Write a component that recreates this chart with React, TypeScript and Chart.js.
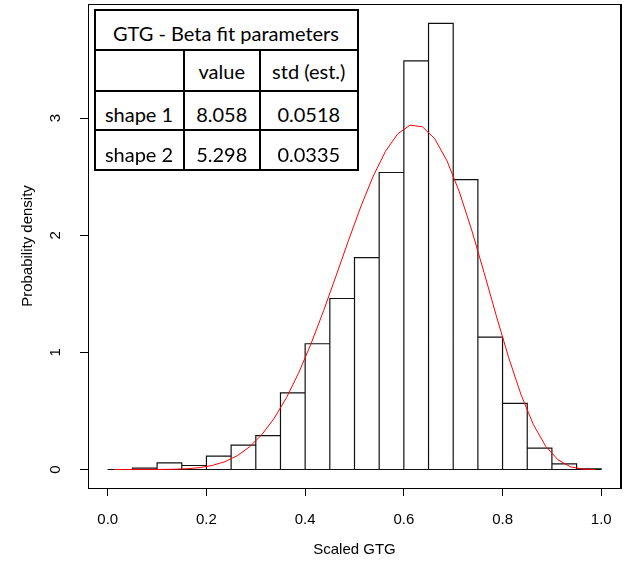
import React, { useEffect, useRef } from "react";
import { Chart, registerables } from "chart.js";

Chart.register(...registerables);

// ---- data ----
const binEdges = [0, 0.05, 0.1, 0.15, 0.2, 0.25, 0.3, 0.35, 0.4, 0.45, 0.5, 0.55, 0.6, 0.65, 0.7, 0.75, 0.8, 0.85, 0.9, 0.95, 1.0];
const binDensity = [0, 0.011, 0.057, 0.034, 0.114, 0.208, 0.29, 0.655, 1.074, 1.46, 1.81, 2.536, 3.49, 3.81, 2.476, 1.131, 0.564, 0.182, 0.048, 0.006];

const curveX = [0.0125, 0.0375, 0.0625, 0.0875, 0.1125, 0.1375, 0.1625, 0.1875, 0.2125, 0.2375, 0.2625, 0.2875, 0.3125, 0.3375, 0.3625, 0.3875, 0.4125, 0.4375, 0.4625, 0.4875, 0.5125, 0.5375, 0.5625, 0.5875, 0.6125, 0.6375, 0.6625, 0.6875, 0.7125, 0.7375, 0.7625, 0.7875, 0.8125, 0.8375, 0.8625, 0.8875, 0.9125, 0.9375, 0.9625, 0.9875];
const curveY = [0, 0, 0.00001, 0.0001, 0.0007, 0.0024, 0.0069, 0.0167, 0.0353, 0.0672, 0.118, 0.194, 0.299, 0.439, 0.616, 0.831, 1.08, 1.357, 1.652, 1.952, 2.241, 2.501, 2.715, 2.866, 2.94, 2.927, 2.825, 2.635, 2.37, 2.044, 1.682, 1.31, 0.954, 0.638, 0.383, 0.198, 0.082, 0.023, 0.003, 0];

const xTicks = [0, 0.2, 0.4, 0.6, 0.8, 1.0];
const yTicks = [0, 1, 2, 3];

const xTitle = "Scaled GTG";
const yTitle = "Probability density";

const tableTitle = "GTG - Beta fit parameters";
const tableHeader = ["", "value", "std (est.)"];
const tableRows = [
  ["shape 1", "8.058", "0.0518"],
  ["shape 2", "5.298", "0.0335"],
];

const axisFont = "'Liberation Sans', Arial, Helvetica, sans-serif";
const tableFont = "Lato, 'Open Sans', sans-serif";

const framePlugin = {
  id: "frameBox",
  afterDraw(chart: any) {
    const { ctx, chartArea } = chart;
    const l = Math.round(chartArea.left) + 0.5;
    const t = Math.round(chartArea.top) + 0.5;
    const r = Math.round(chartArea.right) - 0.5;
    const b = Math.round(chartArea.bottom) + 0.5;
    ctx.save();
    ctx.strokeStyle = "#000";
    ctx.lineWidth = 1;
    ctx.beginPath();
    ctx.moveTo(l, t);
    ctx.lineTo(r, t);
    ctx.lineTo(r, b);
    ctx.lineTo(l, b);
    ctx.closePath();
    ctx.stroke();
    ctx.restore();
  },
};

function buildHistogramOutline() {
  const pts: { x: number; y: number }[] = [];
  for (let i = 0; i < binDensity.length; i++) {
    pts.push({ x: binEdges[i], y: 0 });
    pts.push({ x: binEdges[i], y: binDensity[i] });
    pts.push({ x: binEdges[i + 1], y: binDensity[i] });
    pts.push({ x: binEdges[i + 1], y: 0 });
  }
  return pts;
}

const colX = [94.5, 183.5, 260, 357.5];
const rowY = [9.5, 50, 90.5, 130, 170];
const rowShift = [3.5, 1, 4, 4];

function ParamTable() {
  const lines: React.ReactNode[] = [];
  const lw = 2;
  rowY.forEach((y, i) => {
    lines.push(
      <div key={"h" + i} style={{ position: "absolute", left: colX[0] - lw / 2, top: y - lw / 2, width: colX[3] - colX[0] + lw, height: lw, background: "#000" }} />
    );
  });
  colX.forEach((x, i) => {
    const inner = i === 1 || i === 2;
    const top = inner ? rowY[1] : rowY[0];
    lines.push(
      <div key={"v" + i} style={{ position: "absolute", left: x - lw / 2, top: top - lw / 2, width: lw, height: rowY[4] - top + lw, background: "#000" }} />
    );
  });
  const cell = (text: string, c0: number, c1: number, r: number, key: string) => (
    <div
      key={key}
      style={{
        position: "absolute",
        left: colX[c0],
        width: colX[c1] - colX[c0],
        top: rowY[r] + rowShift[r],
        height: rowY[r + 1] - rowY[r],
        display: "flex",
        alignItems: "center",
        justifyContent: "center",
        fontFamily: tableFont,
        fontSize: 20,
        color: "#000",
        whiteSpace: "nowrap",
      }}
    >
      {text}
    </div>
  );
  const cells: React.ReactNode[] = [];
  cells.push(cell(tableTitle, 0, 3, 0, "title"));
  tableHeader.forEach((t, j) => cells.push(cell(t, j, j + 1, 1, "hd" + j)));
  tableRows.forEach((row, i) => row.forEach((t, j) => cells.push(cell(t, j, j + 1, i + 2, "c" + i + j))));
  return (
    <div style={{ position: "absolute", left: 0, top: 0, width: 627, height: 568, pointerEvents: "none" }}>
      <div style={{ position: "absolute", left: colX[0], top: rowY[0], width: colX[3] - colX[0], height: rowY[4] - rowY[0], background: "#fff" }} />
      {cells}
      {lines}
    </div>
  );
}

const zeroPad = (s: any) => {
  s.paddingLeft = 0;
  s.paddingRight = 0;
  s.paddingTop = 0;
  s.paddingBottom = 0;
};

export default function App() {
  const canvasRef = useRef<HTMLCanvasElement | null>(null);

  useEffect(() => {
    if (!canvasRef.current) return;
    const tickFont = { family: axisFont, size: 15 };
    const chart = new Chart(canvasRef.current, {
      type: "line",
      data: {
        datasets: [
          {
            label: "beta fit",
            data: curveX.map((x, i) => ({ x, y: curveY[i] })),
            borderColor: "#ff0000",
            borderWidth: 1,
            pointRadius: 0,
            tension: 0,
            fill: false,
            order: 0,
          },
          {
            label: "histogram",
            data: buildHistogramOutline(),
            borderColor: "#111",
            borderWidth: 1.2,
            pointRadius: 0,
            tension: 0,
            fill: false,
            order: 1,
          },
          {
            label: "baseline",
            data: [
              { x: binEdges[0], y: 0 },
              { x: binEdges[binEdges.length - 1], y: 0 },
            ],
            borderColor: "#111",
            borderWidth: 1.2,
            pointRadius: 0,
            fill: false,
            order: 2,
          },
        ],
      },
      options: {
        animation: false,
        responsive: false,
        devicePixelRatio: 1,
        layout: { padding: { left: 0, top: 4, right: 6, bottom: 0 } },
        plugins: { legend: { display: false }, tooltip: { enabled: false } },
        scales: {
          x: {
            type: "linear",
            min: -0.04,
            max: 1.04,
            afterBuildTicks: (s: any) => {
              s.ticks = xTicks.map((v) => ({ value: v }));
            },
            afterFit: (s: any) => {
              s.height = 80;
              zeroPad(s);
            },
            ticks: {
              callback: (v: any) => Number(v).toFixed(1),
              font: tickFont,
              color: "#000",
              padding: 15,
              maxRotation: 0,
              autoSkip: false,
            },
            grid: { drawOnChartArea: false, drawTicks: true, tickLength: 8, tickColor: "#000", tickWidth: 1 },
            border: { display: true, color: "#000", width: 1 },
            title: { display: true, text: xTitle, font: tickFont, color: "#000", padding: { top: 0, bottom: 9 } },
          },
          xTop: {
            type: "linear",
            position: "top",
            min: -0.04,
            max: 1.04,
            afterFit: (s: any) => {
              s.height = 0;
              zeroPad(s);
            },
            ticks: { display: false },
            grid: { display: false, drawTicks: false },
            border: { display: true, color: "#000", width: 1 },
          },
          y: {
            type: "linear",
            min: -0.158,
            max: 3.975,
            afterBuildTicks: (s: any) => {
              s.ticks = yTicks.map((v) => ({ value: v }));
            },
            afterFit: (s: any) => {
              s.width = 88;
              zeroPad(s);
            },
            ticks: {
              callback: (v: any) => String(v),
              font: tickFont,
              color: "#000",
              padding: 20,
              minRotation: 90,
              maxRotation: 90,
              crossAlign: "center",
              autoSkip: false,
            },
            grid: { drawOnChartArea: false, drawTicks: true, tickLength: 8, tickColor: "#000", tickWidth: 1 },
            border: { display: true, color: "#000", width: 1 },
            title: { display: true, text: yTitle, font: tickFont, color: "#000", padding: { top: 18.5, bottom: 0 } },
          },
          yRight: {
            type: "linear",
            position: "right",
            min: -0.158,
            max: 3.975,
            afterFit: (s: any) => {
              s.width = 0;
              zeroPad(s);
            },
            ticks: { display: false },
            grid: { display: false, drawTicks: false },
            border: { display: true, color: "#000", width: 1 },
          },
        },
      } as any,
      plugins: [framePlugin],
    });
    return () => chart.destroy();
  }, []);

  return (
    <div style={{ position: "fixed", left: 0, top: 0, width: 627, height: 568, background: "#fff" }}>
      <canvas ref={canvasRef} width={627} height={568} style={{ position: "absolute", left: 0, top: 0, width: 627, height: 568 }} />
      <ParamTable />
    </div>
  );
}
